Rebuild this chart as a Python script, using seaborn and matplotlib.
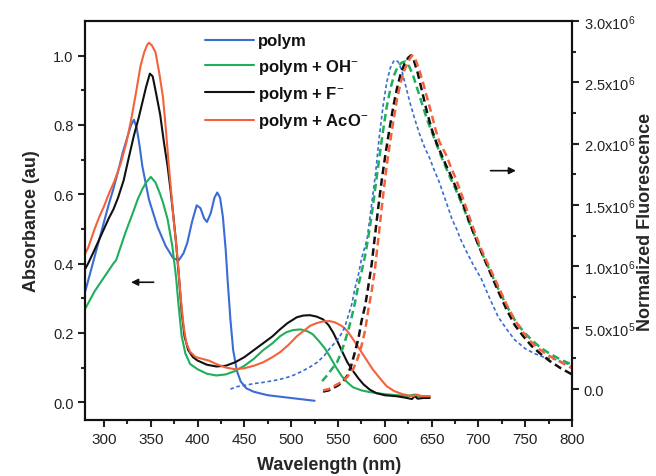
import numpy as np
import pandas as pd
import matplotlib
matplotlib.use("Agg")
import matplotlib.pyplot as plt
from matplotlib.lines import Line2D
from matplotlib.ticker import FixedLocator, FixedFormatter
import seaborn as sns

# ---------------- data ----------------
series_names = ["polym", "polym + OH$^{-}$", "polym + F$^{-}$", "polym + AcO$^{-}$"]
series_colors = ["#3a6cd6", "#1fae5c", "#111111", "#f4623c"]

# Absorbance (left axis)
abs_blue_x = [280, 285, 290, 295, 300, 305, 310, 315, 320, 325, 329, 332, 335, 338, 341, 348, 357, 366,
              374, 380, 385, 389, 394, 399, 403, 407, 410, 414, 418, 421, 424, 427, 430, 432, 435, 438,
              442, 446, 452, 460, 475, 500, 525]
abs_blue_y = [0.32, 0.37, 0.42, 0.47, 0.52, 0.57, 0.615, 0.665, 0.72, 0.765, 0.80, 0.815, 0.79, 0.74, 0.68,
              0.585, 0.507, 0.45, 0.415, 0.41, 0.43, 0.46, 0.52, 0.568, 0.56, 0.53, 0.52, 0.545, 0.59,
              0.605, 0.59, 0.535, 0.44, 0.355, 0.24, 0.15, 0.09, 0.06, 0.04, 0.03, 0.02, 0.012, 0.004]

abs_green_x = [280, 285, 290, 295, 300, 305, 310, 313, 318, 323, 330, 336, 341, 345, 350, 355, 360, 363,
               368, 373, 377, 380, 383, 387, 392, 400, 410, 420, 430, 440, 450, 460, 470, 480, 488, 495,
               502, 510, 517, 523, 530, 536, 541, 548, 554, 560, 566, 575, 584, 600, 613, 625, 632, 636, 648]
abs_green_y = [0.27, 0.295, 0.32, 0.34, 0.36, 0.38, 0.40, 0.41, 0.45, 0.49, 0.54, 0.585, 0.615, 0.634, 0.65,
               0.634, 0.60, 0.576, 0.527, 0.45, 0.36, 0.27, 0.19, 0.14, 0.11, 0.095, 0.082, 0.077, 0.08,
               0.09, 0.105, 0.125, 0.15, 0.17, 0.19, 0.202, 0.208, 0.21, 0.205, 0.196, 0.175, 0.155,
               0.133, 0.10, 0.075, 0.057, 0.043, 0.034, 0.029, 0.023, 0.02, 0.018, 0.022, 0.017, 0.017]

abs_black_x = [280, 283, 290, 295, 300, 305, 310, 315, 321, 326, 332, 337, 341, 345, 349, 352, 355, 360,
               364, 368, 371, 374, 377, 380, 383, 386, 390, 395, 400, 410, 420, 430, 440, 450, 460, 470,
               480, 488, 496, 506, 513, 520, 527, 534, 540, 545, 550, 555, 560, 566, 572, 577, 584, 591,
               600, 613, 622, 629, 632, 635, 641, 648]
abs_black_y = [0.385, 0.40, 0.44, 0.47, 0.50, 0.53, 0.556, 0.59, 0.64, 0.70, 0.77, 0.82, 0.865, 0.91, 0.948,
               0.94, 0.90, 0.83, 0.75, 0.68, 0.614, 0.54, 0.46, 0.363, 0.26, 0.19, 0.15, 0.13, 0.12,
               0.108, 0.103, 0.105, 0.115, 0.13, 0.15, 0.17, 0.19, 0.21, 0.228, 0.245, 0.25, 0.251,
               0.247, 0.239, 0.222, 0.20, 0.172, 0.143, 0.115, 0.09, 0.068, 0.052, 0.036, 0.026, 0.02,
               0.017, 0.013, 0.009, 0.018, 0.01, 0.012, 0.012]

abs_red_x = [280, 283, 290, 295, 300, 305, 311, 318, 324, 329, 334, 339, 343, 346, 348, 351, 355, 359,
             363, 366, 369, 372, 374, 377, 379, 382, 385, 388, 392, 398, 405, 412, 420, 430, 440, 450,
             460, 470, 480, 488, 497, 506, 513, 520, 527, 534, 541, 547, 554, 560, 566, 573, 580, 587,
             595, 602, 610, 619, 630, 634, 640, 648]
abs_red_y = [0.43, 0.445, 0.50, 0.535, 0.565, 0.60, 0.637, 0.69, 0.75, 0.815, 0.89, 0.97, 1.01, 1.03, 1.037,
             1.03, 1.01, 0.95, 0.88, 0.79, 0.69, 0.60, 0.536, 0.46, 0.40, 0.30, 0.22, 0.17, 0.145,
             0.13, 0.125, 0.12, 0.11, 0.10, 0.095, 0.098, 0.105, 0.115, 0.13, 0.144, 0.165, 0.19,
             0.205, 0.22, 0.228, 0.233, 0.234, 0.23, 0.22, 0.205, 0.182, 0.153, 0.124, 0.095, 0.068,
             0.046, 0.032, 0.023, 0.017, 0.022, 0.017, 0.017]

# Fluorescence (right axis), in units of 1e6
FL_UNIT = 1e6
fl_blue_x = [435, 442, 450, 460, 470, 480, 488, 500, 510, 520, 528, 535, 541, 547, 552, 557, 561, 565, 568,
             572, 575, 578, 581, 585, 590, 594, 598, 602, 606, 610, 614, 618, 622, 627, 632, 637, 642,
             648, 653, 658, 663, 668, 672, 677, 681, 686, 694, 703, 712, 721, 730, 739, 750, 760, 770,
             783, 790, 797, 800]
fl_blue_y = [0.0, 0.02, 0.03, 0.045, 0.055, 0.068, 0.08, 0.105, 0.14, 0.18, 0.22, 0.27, 0.33, 0.38, 0.43,
             0.5, 0.6, 0.7, 0.82, 0.94, 1.06, 1.14, 1.22, 1.45, 1.75, 2.05, 2.3, 2.5, 2.62, 2.68, 2.67,
             2.6, 2.48, 2.33, 2.2, 2.08, 1.98, 1.88, 1.78, 1.69, 1.58, 1.47, 1.38, 1.3, 1.22, 1.14,
             1.02, 0.9, 0.74, 0.59, 0.49, 0.40, 0.33, 0.29, 0.26, 0.24, 0.22, 0.2, 0.19]

fl_green_x = [533, 537, 541, 545, 549, 553, 557, 561, 565, 568, 571, 575, 579, 582, 586, 590, 594, 598, 602,
              606, 610, 614, 618, 622, 626, 630, 635, 640, 645, 650, 655, 660, 665, 670, 675, 680, 685,
              690, 696, 703, 712, 721, 730, 739, 748, 757, 766, 776, 788, 800]
fl_green_y = [0.065, 0.1, 0.14, 0.18, 0.22, 0.29, 0.38, 0.48, 0.6, 0.7, 0.82, 0.95, 1.09, 1.22, 1.42, 1.65,
              1.88, 2.1, 2.3, 2.45, 2.56, 2.63, 2.66, 2.67, 2.63, 2.56, 2.44, 2.32, 2.2, 2.1, 2.0, 1.9,
              1.81, 1.72, 1.64, 1.55, 1.46, 1.36, 1.25, 1.12, 0.97, 0.82, 0.68, 0.56, 0.47, 0.4, 0.34,
              0.29, 0.24, 0.2]

fl_black_x = [534, 540, 545, 550, 555, 560, 564, 568, 572, 575, 579, 582, 586, 589, 593, 597, 601, 605, 609,
              613, 617, 621, 625, 628, 631, 635, 640, 645, 650, 655, 660, 665, 670, 675, 680, 685, 690,
              696, 703, 712, 721, 730, 739, 748, 757, 766, 776, 788, 800]
fl_black_y = [-0.02, -0.01, 0.01, 0.03, 0.06, 0.11, 0.19, 0.3, 0.42, 0.55, 0.68, 0.82, 1.02, 1.22, 1.48,
              1.72, 1.93, 2.12, 2.3, 2.45, 2.57, 2.65, 2.7, 2.72, 2.68, 2.58, 2.42, 2.26, 2.12, 2.01,
              1.92, 1.83, 1.75, 1.66, 1.57, 1.48, 1.37, 1.25, 1.12, 0.96, 0.8, 0.65, 0.52, 0.43, 0.35,
              0.29, 0.23, 0.17, 0.12]

fl_red_x = [534, 540, 547, 554, 560, 566, 571, 575, 579, 582, 586, 589, 593, 597, 601, 605, 609, 613, 617,
            621, 625, 629, 632, 636, 640, 645, 650, 654, 658, 662, 666, 670, 675, 680, 685, 690, 696,
            703, 712, 721, 730, 739, 748, 757, 766, 776, 788, 800]
fl_red_y = [-0.01, 0.0, 0.03, 0.06, 0.1, 0.16, 0.25, 0.35, 0.48, 0.63, 0.8, 0.95, 1.22, 1.5, 1.76, 1.98,
            2.18, 2.36, 2.5, 2.6, 2.67, 2.72, 2.7, 2.62, 2.52, 2.38, 2.24, 2.12, 2.02, 1.96, 1.9, 1.82,
            1.73, 1.63, 1.52, 1.41, 1.28, 1.14, 0.99, 0.84, 0.69, 0.56, 0.46, 0.38, 0.32, 0.27, 0.22,
            0.17]

x_ticks = [300, 350, 400, 450, 500, 550, 600, 650, 700, 750, 800]
abs_ticks = [0.0, 0.2, 0.4, 0.6, 0.8, 1.0]
abs_tick_labels = ["0.0", "0.2", "0.4", "0.6", "0.8", "1.0"]
fl_ticks = [0.0, 0.5e6, 1.0e6, 1.5e6, 2.0e6, 2.5e6, 3.0e6]
fl_tick_labels = ["0.0", "5.0x10$^5$", "1.0x10$^6$", "1.5x10$^6$", "2.0x10$^6$", "2.5x10$^6$", "3.0x10$^6$"]

# ---------------- style ----------------
sns.set_theme(style="ticks")
plt.rcParams["font.family"] = ["Liberation Sans", "DejaVu Sans"]
plt.rcParams["mathtext.fontset"] = "custom"
plt.rcParams["mathtext.rm"] = "Liberation Sans"
plt.rcParams["mathtext.it"] = "Liberation Sans:italic"
plt.rcParams["mathtext.bf"] = "Liberation Sans:bold"
plt.rcParams["axes.linewidth"] = 1.5

fig = plt.figure(figsize=(6.56, 4.77), dpi=100)
ax = fig.add_axes([0.130, 0.117, 0.742, 0.837])
ax2 = ax.twinx()

abs_data = [(abs_blue_x, abs_blue_y), (abs_green_x, abs_green_y),
            (abs_black_x, abs_black_y), (abs_red_x, abs_red_y)]
fl_data = [(fl_blue_x, fl_blue_y), (fl_green_x, fl_green_y),
           (fl_black_x, fl_black_y), (fl_red_x, fl_red_y)]

for (xs, ys), c in zip(abs_data, series_colors):
    df = pd.DataFrame({"x": xs, "y": ys})
    sns.lineplot(data=df, x="x", y="y", ax=ax, color=c, lw=1.5, estimator=None, sort=False)

for i, ((xs, ys), c) in enumerate(zip(fl_data, series_colors)):
    df = pd.DataFrame({"x": xs, "y": np.array(ys) * FL_UNIT})
    sns.lineplot(data=df, x="x", y="y", ax=ax2, color=c, lw=1.2 if i == 0 else 1.8,
                 estimator=None, sort=False)
    ln = ax2.lines[-1]
    if i == 0:
        ln.set_dashes([2.2, 1.6])
    else:
        ln.set_dashes([3.0, 1.7])

ax.set_xlim(280, 800)
ax.set_ylim(-0.052, 1.1)
ax2.set_ylim(-2.53e5, 3.0e6)

ax.xaxis.set_major_locator(FixedLocator(x_ticks))
ax.xaxis.set_minor_locator(FixedLocator([t + 25 for t in x_ticks[:-1]]))
ax.yaxis.set_major_locator(FixedLocator(abs_ticks))
ax.yaxis.set_major_formatter(FixedFormatter(abs_tick_labels))
ax.yaxis.set_minor_locator(FixedLocator([t + 0.1 for t in abs_ticks[:-1]]))
ax2.yaxis.set_major_locator(FixedLocator(fl_ticks))
ax2.yaxis.set_major_formatter(FixedFormatter(fl_tick_labels))
ax2.yaxis.set_minor_locator(FixedLocator([t + 2.5e5 for t in fl_ticks[:-1]]))

for a in (ax, ax2):
    a.tick_params(which="major", direction="out", length=5, width=1.5, labelsize=10.5,
                  colors="#222222", labelcolor="#222222")
    a.tick_params(which="minor", direction="out", length=3, width=1.5)
    for s in a.spines.values():
        s.set_visible(True)
        s.set_color("#111111")
        s.set_linewidth(1.5)
ax.tick_params(axis="x", labelsize=11)
ax.tick_params(top=False, right=False)
ax2.tick_params(top=False, left=False, right=True, which="both")

ax.set_xlabel("Wavelength (nm)", fontsize=13, fontweight="bold", labelpad=7)
ax.set_ylabel("Absorbance (au)", fontsize=13, fontweight="bold", labelpad=9)
ax2.set_ylabel("Normalized Fluorescence", fontsize=13, fontweight="bold", labelpad=1)

# arrows
ax.annotate("", xy=(326, 0.346), xytext=(356, 0.346),
            arrowprops=dict(arrowstyle="-|>", color="#111111", lw=1.2, mutation_scale=10))
ax2.annotate("", xy=(743, 1.78e6), xytext=(710, 1.78e6),
             arrowprops=dict(arrowstyle="-|>", color="#111111", lw=1.2, mutation_scale=10))

handles = [Line2D([0], [0], color=c, lw=1.5) for c in series_colors]
leg = ax.legend(handles, series_names, loc="upper left", bbox_to_anchor=(0.24, 0.977),
                frameon=False, fontsize=12, handlelength=2.9, handletextpad=0.25,
                labelspacing=0.5, borderpad=0.2, borderaxespad=0)
for t in leg.get_texts():
    t.set_fontweight("bold")
    t.set_color("#111111")

fig.savefig("out.png", dpi=100)
